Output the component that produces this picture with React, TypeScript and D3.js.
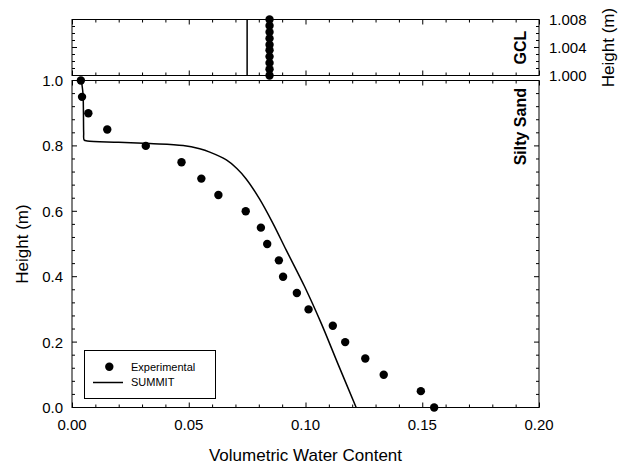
import React from "react";
import * as d3 from "d3";

const expX = [0.0038, 0.0043, 0.007, 0.0151, 0.0316, 0.0469, 0.0554, 0.0627, 0.0744, 0.0809, 0.0836, 0.0886, 0.0904, 0.0963, 0.1013, 0.1117, 0.117, 0.1256, 0.1335, 0.1494, 0.1551];
const expH = [1.0, 0.95, 0.9, 0.85, 0.8, 0.75, 0.7, 0.65, 0.6, 0.55, 0.5, 0.45, 0.4, 0.35, 0.3, 0.25, 0.2, 0.15, 0.1, 0.05, 0.0];

const sumX = [0.004, 0.0047, 0.0049, 0.005, 0.0052, 0.0065, 0.02, 0.0333, 0.0476, 0.0547, 0.059, 0.0661, 0.0706, 0.0746, 0.0803, 0.086, 0.0917, 0.0996, 0.1067, 0.1138, 0.1217];
const sumH = [1.0, 0.96, 0.9, 0.84, 0.818, 0.815, 0.811, 0.807, 0.801, 0.791, 0.781, 0.757, 0.731, 0.699, 0.638, 0.564, 0.482, 0.37, 0.258, 0.135, 0.0];

const gclExpX = 0.0846;
const gclExpH = [1.0, 1.0009, 1.0018, 1.0027, 1.0036, 1.0044, 1.0053, 1.0062, 1.0071, 1.008];
const gclSumX = [0.075, 0.075];
const gclSumH = [1.0, 1.008];

const xTicks = [0, 0.05, 0.1, 0.15, 0.2];
const xTickLabels = ["0.00", "0.05", "0.10", "0.15", "0.20"];
const yTicks = [0, 0.2, 0.4, 0.6, 0.8, 1.0];
const yTickLabels = ["0.0", "0.2", "0.4", "0.6", "0.8", "1.0"];
const gclTicks = [1.0, 1.004, 1.008];
const gclTickLabels = ["1.000", "1.004", "1.008"];

const FONT = "'Liberation Sans', Arial, Helvetica, sans-serif";

export default function App() {
  const x = d3.scaleLinear().domain([0, 0.2]).range([72, 539]);
  const y = d3.scaleLinear().domain([0, 1]).range([407.5, 80.5]);
  const yg = d3.scaleLinear().domain([1.0, 1.008]).range([75.5, 19.5]);

  const xMinor = d3.range(0, 0.2001, 0.01);
  const yMinor = d3.range(0, 1.0001, 0.04);
  const ygMinor = d3.range(1.0, 1.00801, 0.001);

  const isMajX = (v: number) => Math.abs(v / 0.05 - Math.round(v / 0.05)) < 1e-6;
  const isMajY = (v: number) => Math.abs(v / 0.2 - Math.round(v / 0.2)) < 1e-6;
  const isMajG = (v: number) => Math.abs((v - 1) / 0.004 - Math.round((v - 1) / 0.004)) < 1e-6;

  const line = d3
    .line<number>()
    .x((_, i) => x(sumX[i]))
    .y((_, i) => y(sumH[i]))
    .curve(d3.curveCatmullRom.alpha(0.5));
  const gLine = d3
    .line<number>()
    .x((_, i) => x(gclSumX[i]))
    .y((_, i) => yg(gclSumH[i]));

  const [x0, x1] = x.range();
  const mainTop = y(1);
  const mainBot = y(0);
  const gTop = yg(1.008);
  const gBot = yg(1.0);

  const xTickMarks = (yPos: number, dir: number, key: string) =>
    xMinor.map((v, i) => {
      const len = isMajX(v) ? 5 : 3;
      return <line key={key + i} x1={x(v) + 0.5} x2={x(v) + 0.5} y1={yPos} y2={yPos + dir * len} stroke="#000" strokeWidth={1} />;
    });

  return (
    <svg width={622} height={466} style={{ display: "block", position: "absolute", left: 0, top: 0 }} fontFamily={FONT}>
      <rect width={622} height={466} fill="#fff" />
      {/* GCL panel */}
      <rect x={x0} y={gTop} width={x1 - x0} height={gBot - gTop} fill="none" stroke="#000" strokeWidth={1} />
      {xTickMarks(gTop, 1, "gt")}
      {xTickMarks(gBot, -1, "gb")}
      {ygMinor.map((v, i) => {
        const len = isMajG(v) ? 5 : 3;
        return (
          <g key={"gy" + i}>
            <line x1={x0} x2={x0 + len} y1={yg(v)} y2={yg(v)} stroke="#000" />
            <line x1={x1} x2={x1 - len} y1={yg(v)} y2={yg(v)} stroke="#000" />
          </g>
        );
      })}
      {gclTicks.map((v, i) => (
        <text key={"gl" + i} x={x1 + 10} y={yg(v)} dy="0.36em" fontSize={15} textAnchor="start">
          {gclTickLabels[i]}
        </text>
      ))}
      <path d={gLine(gclSumX) || ""} fill="none" stroke="#000" strokeWidth={1.5} />
      {gclExpH.map((h, i) => (
        <circle key={"gd" + i} cx={x(gclExpX)} cy={yg(h)} r={4.2} fill="#000" />
      ))}
      <text transform={`translate(526,${(gTop + gBot) / 2}) rotate(-90)`} textAnchor="middle" fontSize={16} fontWeight="bold">
        GCL
      </text>
      <text transform={`translate(614,${(gTop + gBot) / 2}) rotate(-90)`} textAnchor="middle" fontSize={17}>
        Height (m)
      </text>

      {/* Main panel */}
      <rect x={x0} y={mainTop} width={x1 - x0} height={mainBot - mainTop} fill="none" stroke="#000" strokeWidth={1} />
      {xTickMarks(mainTop, 1, "mt")}
      {xTickMarks(mainBot, -1, "mb")}
      {yMinor.map((v, i) => {
        const len = isMajY(v) ? 5 : 3;
        return (
          <g key={"my" + i}>
            <line x1={x0} x2={x0 + len} y1={y(v)} y2={y(v)} stroke="#000" />
            <line x1={x1} x2={x1 - len} y1={y(v)} y2={y(v)} stroke="#000" />
          </g>
        );
      })}
      {yTicks.map((v, i) => (
        <text key={"yl" + i} x={x0 - 9} y={y(v)} dy="0.36em" fontSize={15} textAnchor="end">
          {yTickLabels[i]}
        </text>
      ))}
      {xTicks.map((v, i) => (
        <text key={"xl" + i} x={x(v)} y={mainBot + 22} fontSize={15} textAnchor="middle">
          {xTickLabels[i]}
        </text>
      ))}
      <path d={line(sumX) || ""} fill="none" stroke="#000" strokeWidth={1.5} strokeLinejoin="round" />
      {expX.map((v, i) => (
        <circle key={"ed" + i} cx={x(v)} cy={y(expH[i])} r={4.2} fill="#000" />
      ))}
      <text transform={`translate(526,88) rotate(-90)`} textAnchor="end" fontSize={16} fontWeight="bold">
        Silty Sand
      </text>
      <text transform={`translate(28,${(mainTop + mainBot) / 2}) rotate(-90)`} textAnchor="middle" fontSize={17}>
        Height (m)
      </text>
      <text x={(x0 + x1) / 2} y={461} textAnchor="middle" fontSize={17}>
        Volumetric Water Content
      </text>

      {/* Legend */}
      <rect x={84.5} y={350.5} width={131} height={48} fill="#fff" stroke="#000" strokeWidth={1} />
      <circle cx={109.3} cy={366.7} r={4.2} fill="#000" />
      <text x={131} y={366.7} dy="0.36em" fontSize={11}>
        Experimental
      </text>
      <line x1={93} x2={123} y1={382.5} y2={382.5} stroke="#000" strokeWidth={1.5} />
      <text x={131} y={382.3} dy="0.36em" fontSize={11}>
        SUMMIT
      </text>
    </svg>
  );
}
